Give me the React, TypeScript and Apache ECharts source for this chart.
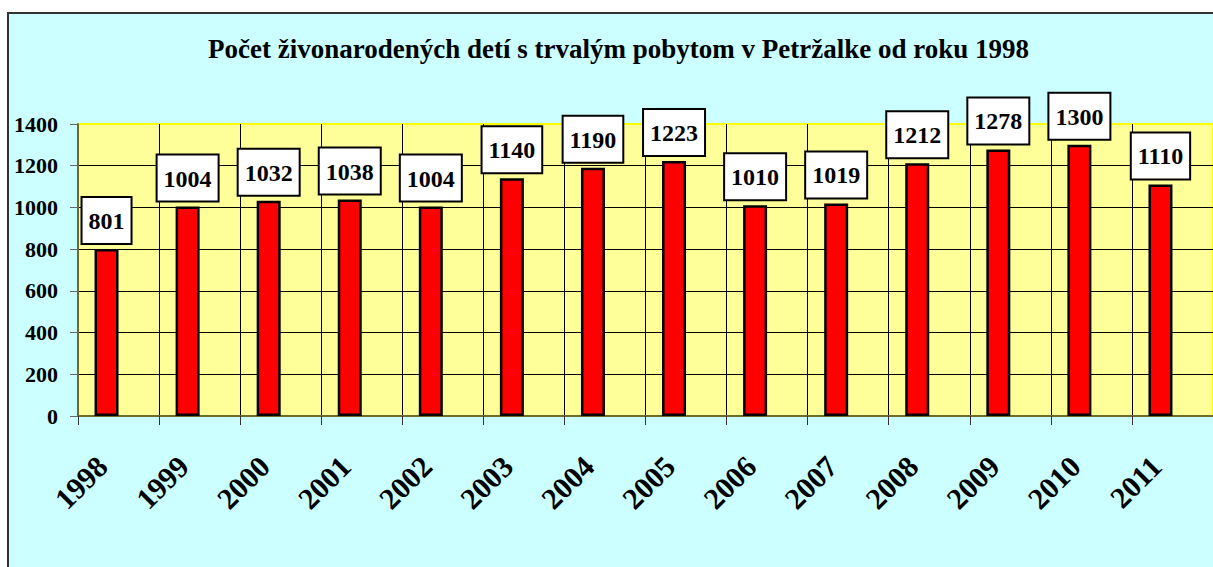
import React, { useEffect, useRef } from "react";
import * as echarts from "echarts";

const title = "Počet živonarodených detí s trvalým pobytom v Petržalke od roku 1998";
const years = ["1998", "1999", "2000", "2001", "2002", "2003", "2004", "2005", "2006", "2007", "2008", "2009", "2010", "2011"];
const births = [801, 1004, 1032, 1038, 1004, 1140, 1190, 1223, 1010, 1019, 1212, 1278, 1300, 1110];
const emptySeries = years.map(() => "-");
const yMin = 0;
const yMax = 1400;
const yStep = 200;

const FONT = "Liberation Serif";

export default function App() {
  const ref = useRef<HTMLDivElement>(null);
  useEffect(() => {
    if (!ref.current) return;
    const chart = echarts.init(ref.current, null, { renderer: "svg" });
    chart.setOption({
      animation: false,
      backgroundColor: "#ffffff",
      graphic: [
        {
          type: "rect",
          z: -100,
          silent: true,
          shape: { x: 8, y: 13, width: 1400, height: 800 },
          style: { fill: "#CCFFFF", stroke: "#333333", lineWidth: 2 },
        },
      ],
      title: {
        text: title,
        left: 203,
        top: 30,
        textStyle: { fontFamily: FONT, fontWeight: "bold", fontSize: 27, color: "#000" },
      },
      grid: {
        left: 78,
        top: 124,
        width: 1137,
        height: 292,
        show: true,
        backgroundColor: "#FFFF99",
        borderColor: "#FFFF00",
        borderWidth: 2,
        containLabel: false,
      },
      xAxis: {
        type: "category",
        data: years,
        boundaryGap: true,
        axisLine: { show: true, lineStyle: { color: "#6b6b2a", width: 2 } },
        axisTick: { show: true, length: 9, alignWithLabel: false, lineStyle: { color: "#333", width: 1 } },
        splitLine: { show: true, lineStyle: { color: "#000", width: 1 } },
        axisLabel: {
          rotate: 45,
          margin: 29,
          padding: [0, 23, 0, 0],
          fontFamily: FONT,
          fontWeight: "bold",
          fontSize: 30,
          color: "#000",
          interval: 0,
        },
      },
      yAxis: {
        type: "value",
        min: yMin,
        max: yMax,
        interval: yStep,
        axisLine: { show: true, lineStyle: { color: "#6b6b2a", width: 2 } },
        axisTick: { show: true, length: 8, lineStyle: { color: "#666", width: 1 } },
        splitLine: { show: true, showMaxLine: false, lineStyle: { color: "#000", width: 1 } },
        axisLabel: {
          margin: 20,
          formatter: (v: number) => String(v),
          fontFamily: FONT,
          fontWeight: "bold",
          fontSize: 22,
          color: "#000",
        },
      },
      series: [
        {
          type: "bar",
          data: births,
          barWidth: 24,
          barGap: "0%",
          itemStyle: { color: "#FF0000", borderColor: "#000", borderWidth: 2.5 },
          label: {
            show: true,
            position: "top",
            distance: 6,
            fontFamily: FONT,
            fontWeight: "bold",
            fontSize: 24,
            color: "#000",
            backgroundColor: "#fff",
            borderColor: "#000",
            borderWidth: 2,
            padding: [11, 6, 10, 6],
          },
        },
        {
          type: "bar",
          data: emptySeries,
          barWidth: 24,
          barGap: "0%",
          itemStyle: { color: "#FF0000" },
        },
      ],
    });
    return () => chart.dispose();
  }, []);
  return (
    <div
      ref={ref}
      style={{ position: "fixed", left: 0, top: 0, width: 1213, height: 567 }}
    />
  );
}
